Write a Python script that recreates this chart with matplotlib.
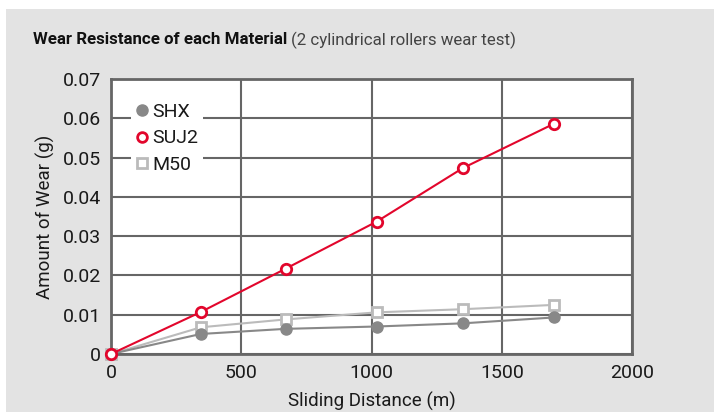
import matplotlib.pyplot as plt
from matplotlib.patches import Rectangle

plt.rcParams['font.family'] = ['Roboto', 'DejaVu Sans']

distance = [0, 345, 670, 1020, 1350, 1700]
shx = [0, 0.0051, 0.0064, 0.0070, 0.0078, 0.0093]
suj2 = [0, 0.0107, 0.0217, 0.0337, 0.0473, 0.0586]
m50 = [0, 0.0068, 0.0088, 0.0106, 0.0114, 0.0125]

red = '#e2062c'
grid = '#666666'
txt = '#1a1a1a'

fig = plt.figure(figsize=(7.14, 4.12), dpi=100)
fig.patches.append(Rectangle((6 / 714, 0), 1, 1 - 9 / 412, transform=fig.transFigure,
                             facecolor='#e3e3e3', edgecolor='none', zorder=-10))

ax = fig.add_axes([111 / 714, 1 - 354 / 412, 521 / 714, 275 / 412])
ax.set_facecolor('white')

ax.plot(distance, m50, color='#bbbbbb', lw=1.5, marker='s', ms=7,
        mfc='white', mec='#bbbbbb', mew=2, clip_on=False, zorder=3)
ax.plot(distance, shx, color='#888888', lw=1.5, marker='o', ms=8,
        mfc='#888888', mec='#888888', clip_on=False, zorder=4)
ax.plot(distance, suj2, color=red, lw=1.5, marker='o', ms=7.5,
        mfc='white', mec=red, mew=2, clip_on=False, zorder=5)

ax.set_xlim(0, 2000)
ax.set_ylim(0, 0.07)
ax.set_xticks([0, 500, 1000, 1500, 2000])
ax.set_xticklabels(['0', '500', '1000', '1500', '2000'])
ax.set_yticks([0, 0.01, 0.02, 0.03, 0.04, 0.05, 0.06, 0.07])
ax.set_yticklabels(['0', '0.01', '0.02', '0.03', '0.04', '0.05', '0.06', '0.07'])
ax.tick_params(length=0, labelsize=14, colors=txt, pad=7)
ax.grid(True, color=grid, lw=1.5)
ax.set_axisbelow(True)
for s in ax.spines.values():
    s.set_color(grid)
    s.set_linewidth(2)

ax.set_xlabel('Sliding Distance (m)', fontsize=13.5, color=txt, labelpad=7)
ax.set_ylabel('Amount of Wear (g)', fontsize=13.5, color=txt, labelpad=6)

h1, = ax.plot([], [], ls='none', marker='o', ms=8, mfc='#888888', mec='#888888')
h2, = ax.plot([], [], ls='none', marker='o', ms=7, mfc='white', mec=red, mew=2)
h3, = ax.plot([], [], ls='none', marker='s', ms=7, mfc='white', mec='#bbbbbb', mew=2)
leg = ax.legend([h1, h2, h3], ['SHX', 'SUJ2', 'M50'], loc='upper left',
                bbox_to_anchor=(0.02, 0.965), frameon=True, fontsize=14,
                handlelength=0.6, handletextpad=0.25, labelspacing=0.42,
                borderpad=0.25, fancybox=False)
leg.get_frame().set_facecolor('white')
leg.get_frame().set_edgecolor('none')
leg.get_frame().set_alpha(1)
for t in leg.get_texts():
    t.set_color(txt)

t1 = fig.text(33 / 714, 1 - 40 / 412, 'Wear Resistance of each Material', fontsize=12.2,
              fontweight='bold', color='#111111', va='center')
fig.canvas.draw()
bb = t1.get_window_extent()
fig.text((bb.x1 + 4) / 714, 1 - 40 / 412, '(2 cylindrical rollers wear test)', fontsize=12.2,
         color='#444444', va='center')

fig.savefig('out.png', dpi=100)
